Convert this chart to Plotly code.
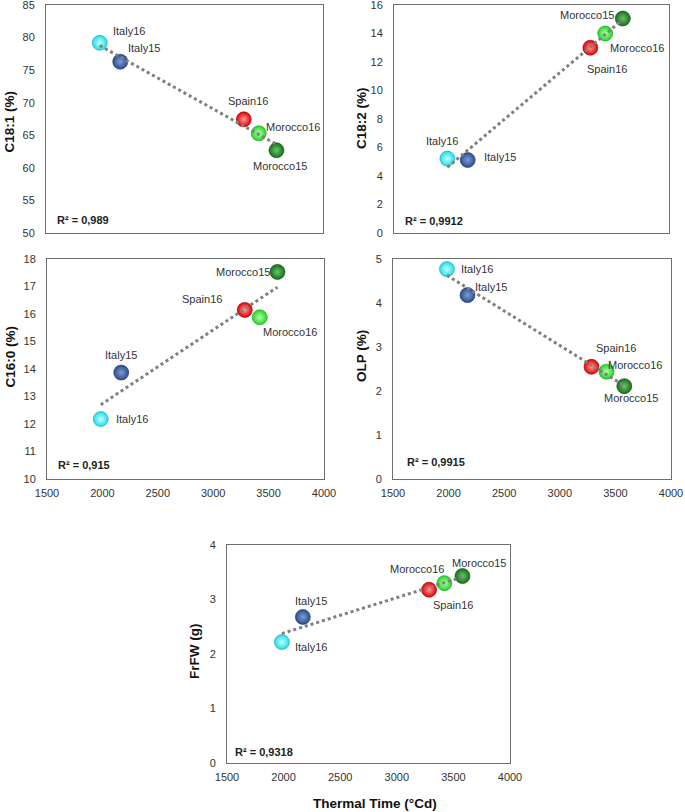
import numpy as np
import plotly.graph_objects as go

# ---------------- data ----------------
sites = ["Italy16", "Italy15", "Spain16", "Morocco16", "Morocco15"]
thermal_time = [1985, 2170, 3285, 3420, 3580]
c18_1 = [79.2, 76.3, 67.45, 65.3, 62.7]
c18_2 = [5.22, 5.12, 13.0, 14.0, 15.05]
c16_0 = [12.18, 13.87, 16.15, 15.88, 17.53]
olp = [4.77, 4.18, 2.55, 2.44, 2.11]
frfw = [2.22, 2.68, 3.18, 3.30, 3.43]
r2_texts = ["R² = 0,989", "R² = 0,9912", "R² = 0,915", "R² = 0,9915", "R² = 0,9318"]
y_titles = ["C18:1 (%)", "C18:2 (%)", "C16:0 (%)", "OLP (%)", "FrFW (g)"]
x_title = "Thermal Time (°Cd)"
x_ticks = [1500, 2000, 2500, 3000, 3500, 4000]

# ---------------- styles ----------------
W, H = 685, 812
FONT = "Liberation Sans, Arial, sans-serif"
site_color = {
    "Italy16": ("#1fdbe8", "#c8ffff"),
    "Italy15": ("#2b4c8c", "#7d9cd6"),
    "Spain16": ("#e00000", "#ff9a9a"),
    "Morocco16": ("#20d620", "#b4ffb4"),
    "Morocco15": ("#17701a", "#6cc46c"),
}
site_line = {
    "Italy16": "#10a8b4",
    "Italy15": "#1c3260",
    "Spain16": "#9a0000",
    "Morocco16": "#129a12",
    "Morocco15": "#0c480e",
}

# panel boxes in pixels: (left, right, top, bottom)
boxes = [
    (46, 323, 5, 233),
    (394, 669, 5, 233),
    (47, 324, 259, 479),
    (393, 671, 259, 479),
    (227, 510, 545, 763),
]
y_ranges = [(50, 85, 5), (0, 16, 2), (10, 18, 1), (0, 5, 1), (0, 4, 1)]
series = [c18_1, c18_2, c16_0, olp, frfw]
show_xlabels = [False, False, True, True, True]

# label offsets (xshift, yshift) in px per panel, per site
label_offsets = [
    {"Italy16": (29, 12), "Italy15": (24, 14), "Spain16": (4, 18), "Morocco16": (34, 6), "Morocco15": (4, -16)},
    {"Italy16": (-5, 18), "Italy15": (32, 3), "Spain16": (17, -21), "Morocco16": (32, -14), "Morocco15": (-36, 4)},
    {"Italy16": (31, 0), "Italy15": (0, 18), "Spain16": (-43, 11), "Morocco16": (30, -15), "Morocco15": (-34, 0)},
    {"Italy16": (30, 0), "Italy15": (23, 8), "Spain16": (25, 19), "Morocco16": (28, 7), "Morocco15": (7, -12)},
    {"Italy16": (29, -5), "Italy15": (8, 16), "Spain16": (24, -15), "Morocco16": (-27, 14), "Morocco15": (17, 13)},
]
r2_pos = [(9, 13), (9, 12), (9, 14), (12, 17), (6, 11)]
ytitle_pos = [(9.5, 122), (362, 118), (9.5, 357), (361, 356), (194, 652)]
xtitle_pos = (375, 803)

fig = go.Figure()
annotations = []
layout_axes = {}

for i, (vals, box, yr) in enumerate(zip(series, boxes, y_ranges)):
    n = "" if i == 0 else str(i + 1)
    xa, ya = "x" + n, "y" + n
    l, r, t, b = box
    layout_axes["xaxis" + n] = dict(
        domain=[l / W, r / W], range=[1500, 4000], tickvals=x_ticks,
        showticklabels=show_xlabels[i], anchor=ya, showgrid=False, zeroline=False,
        showline=True, mirror=True, linecolor="#6e6e6e", linewidth=1,
        ticks="", ticklabelstandoff=4, automargin=False, ticklabeloverflow="allow",
        tickfont=dict(family=FONT, size=11, color="#333333"),
    )
    layout_axes["yaxis" + n] = dict(
        domain=[1 - b / H, 1 - t / H], range=[yr[0], yr[1]],
        tickvals=list(np.arange(yr[0], yr[1] + yr[2] / 2, yr[2])),
        anchor=xa, showgrid=False, zeroline=False,
        showline=True, mirror=True, linecolor="#6e6e6e", linewidth=1,
        ticks="", ticklabelstandoff=8, automargin=False, ticklabeloverflow="allow",
        tickfont=dict(family=FONT, size=11, color="#333333"),
    )
    # markers
    for s, xv, yv in zip(sites, thermal_time, vals):
        c, hl = site_color[s]
        fig.add_trace(go.Scatter(
            x=[xv], y=[yv], mode="markers", xaxis=xa, yaxis=ya, showlegend=False,
            marker=dict(size=15, color=c, gradient=dict(type="radial", color=hl),
                        line=dict(color=site_line[s], width=0.6)),
            hoverinfo="skip", cliponaxis=False,
        ))
        dx, dy = label_offsets[i][s]
        annotations.append(dict(
            x=xv, y=yv, xref=xa, yref=ya, text=s, showarrow=False,
            xshift=dx, yshift=dy, font=dict(family=FONT, size=11, color="#333333"),
        ))
    # linear trendline (least squares fit of the data)
    k, c0 = np.polyfit(thermal_time, vals, 1)
    tx = [min(thermal_time), max(thermal_time)]
    fig.add_trace(go.Scatter(
        x=tx, y=[k * v + c0 for v in tx], mode="lines", xaxis=xa, yaxis=ya,
        showlegend=False, hoverinfo="skip",
        line=dict(color="#7f7f7f", width=3, dash="dot"),
    ))
    # R² text
    annotations.append(dict(
        xref=xa + " domain", yref=ya + " domain", x=0, y=0, xanchor="left", yanchor="middle",
        xshift=r2_pos[i][0], yshift=r2_pos[i][1], text="<b>" + r2_texts[i] + "</b>",
        showarrow=False, font=dict(family=FONT, size=11, color="#222222"),
    ))
    # y title
    px, py = ytitle_pos[i]
    annotations.append(dict(
        xref="paper", yref="paper", x=px / W, y=1 - py / H, xanchor="center", yanchor="middle",
        text="<b>" + y_titles[i] + "</b>", textangle=-90, showarrow=False,
        font=dict(family=FONT, size=13.5, color="#111111"),
    ))

annotations.append(dict(
    xref="paper", yref="paper", x=xtitle_pos[0] / W, y=1 - xtitle_pos[1] / H,
    xanchor="center", yanchor="middle", text="<b>" + x_title + "</b>", showarrow=False,
    font=dict(family=FONT, size=13.5, color="#111111"),
))

fig.update_layout(
    width=W, height=H, margin=dict(l=0, r=0, t=0, b=0, autoexpand=False),
    paper_bgcolor="white", plot_bgcolor="white", hovermode=False,
    annotations=annotations, **layout_axes,
)

fig.write_html(
    "out.html",
    config={"responsive": False, "displayModeBar": False},
    post_script="document.body.style.margin='0';document.body.style.overflow='hidden';",
)
